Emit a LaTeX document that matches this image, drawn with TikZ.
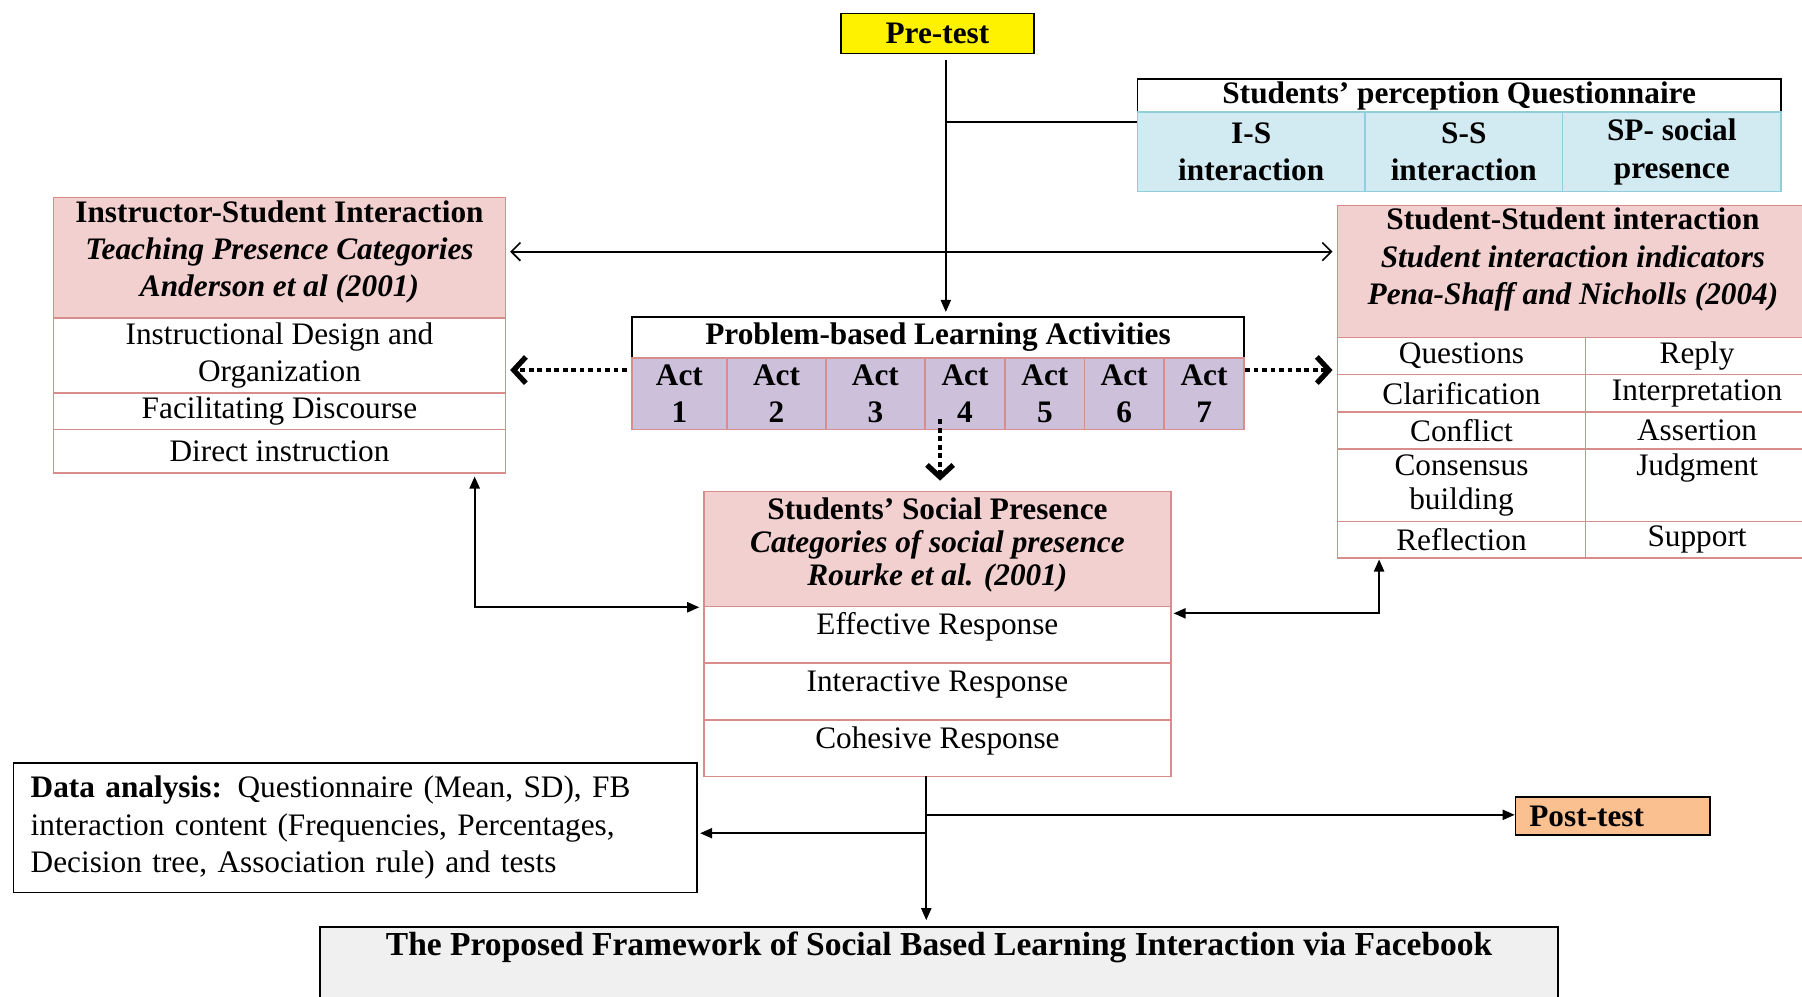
\documentclass[tikz,border=0pt]{standalone}
\usepackage{fontspec}
\setmainfont{Liberation Serif}
\usepackage{xcolor}
\usepackage{tikz}
\usetikzlibrary{positioning,arrows.meta,calc}
\definecolor{pinkfill}{RGB}{242,208,208}
\definecolor{pinkline}{RGB}{217,140,140}
\definecolor{bluefill}{RGB}{210,234,241}
\definecolor{blueline}{RGB}{146,205,220}
\definecolor{actfill}{RGB}{204,192,218}
\definecolor{postfill}{RGB}{250,192,144}
\definecolor{framefill}{RGB}{240,240,240}
\newcommand{\pxl}{0.02cm}
\newcommand{\bodyfont}{\fontsize{15.5pt}{18.5pt}\selectfont}
\tikzset{
  box/.style 2 args={anchor=north west, inner sep=0pt, align=center,
                     minimum width=#1*\pxl, minimum height=#2*\pxl},
  head/.style={draw=pinkline, thick, fill=pinkfill, font=\bodyfont\bfseries},
  cell/.style={draw=pinkline, thick, fill=white},
  plain/.style={draw=black, thick, fill=white, font=\bodyfont\bfseries},
  qcell/.style={draw=blueline, thick, fill=bluefill, font=\bodyfont\bfseries},
  act/.style={draw=pinkline, thick, fill=actfill, font=\bodyfont\bfseries},
  upper/.style={text height=11pt, text depth=11pt},
  lift/.style={text depth=#1},
  link/.style={-{Triangle[length=6pt,width=5pt]}, line width=1pt},
  twoway/.style={{Triangle[length=6pt,width=5pt]}-{Triangle[length=6pt,width=5pt]}, line width=1pt},
  thinway/.style={{Straight Barb[length=4.5pt,width=9pt]}-{Straight Barb[length=4.5pt,width=9pt]}, line width=0.8pt},
  dots/.style={-{Straight Barb[length=6pt,width=13pt,line width=2.6pt]}, line width=2.2pt,
               dash pattern=on 2.4pt off 1.8pt}
}

\begin{document}
\begin{tikzpicture}[x=0.02cm, y=-0.02cm, every node/.style={font=\bodyfont}]
  \useasboundingbox (0,0) rectangle (1568,867);

  % tests and questionnaire
  \node[plain, fill=yellow, box={168}{35}] (pre) at (731,11) {Pre-test};
  \node[plain, box={560}{29}] (qhead) at (989,68) {Students’ perception Questionnaire};
  \node[qcell, box={198}{69}] (q1) at (989,97) {I-S\\interaction};
  \node[qcell, box={172}{69}] (q2) at (1187,97) {S-S\\interaction};
  \node[qcell, box={190}{69}] (q3) at (1359,97) {SP- social\\presence};

  % instructor-student
  \node[head, box={393}{105}, lift=9pt] (ishead) at (46,171)
       {Instructor-Student Interaction\\ \textit{Teaching Presence Categories}\\ \textit{Anderson et al (2001)}};
  \node[cell, box={393}{65}] (is1) at (46,276) {Instructional Design and\\Organization};
  \node[cell, box={393}{32}] (is2) at (46,341) {Facilitating Discourse};
  \node[cell, box={393}{38}] (is3) at (46,373) {Direct instruction};

  % activities
  \node[plain, box={533}{36}] (pbl) at (549,275) {Problem-based Learning Activities};
  \foreach \x/\w [count=\i] in {549/83, 632/86, 718/86, 804/70, 874/69, 943/69, 1012/70}
    \node[act, box={\w}{62}] (act\i) at (\x,311) {Act\\\i};

  % social presence
  \node[head, box={406}{100}, lift=7pt, font=\fontsize{15.5pt}{16.3pt}\selectfont\bfseries] (sphead) at (612,427)
       {Students’ Social Presence\\ \textit{Categories of social presence}\\ \textit{Rourke et al. (2001)}};
  \node[cell, box={406}{49}, upper] (sp1) at (612,527) {Effective Response};
  \node[cell, box={406}{50}, upper] (sp2) at (612,576) {Interactive Response};
  \node[cell, box={406}{49}, upper] (sp3) at (612,626) {Cohesive Response};

  % student-student
  \node[head, box={410}{115}, lift=15pt] (sshead) at (1163,178)
       {Student-Student interaction\\ \textit{Student interaction indicators}\\ \textit{Pena-Shaff and Nicholls (2004)}};
  \node[cell, box={216}{32}] (ss1a) at (1163,293) {Questions};
  \node[cell, box={194}{32}] (ss1b) at (1379,293) {Reply};
  \node[cell, box={216}{33}] (ss2a) at (1163,325) {Clarification};
  \node[cell, box={194}{33}] (ss2b) at (1379,325) {Interpretation};
  \node[cell, box={216}{32}] (ss3a) at (1163,358) {Conflict};
  \node[cell, box={194}{32}] (ss3b) at (1379,358) {Assertion};
  \node[cell, box={216}{63}, font=\fontsize{15.5pt}{17pt}\selectfont] (ss4a) at (1163,390) {Consensus\\building};
  \node[cell, box={194}{63}, lift=20pt] (ss4b) at (1379,390) {Judgment};
  \node[cell, box={216}{32}] (ss5a) at (1163,453) {Reflection};
  \node[cell, box={194}{32}] (ss5b) at (1379,453) {Support};

  % outputs
  \node[plain, box={595}{113}, font=\bodyfont, align=left, text width=565*\pxl] (data) at (11,663)
       {\textbf{Data analysis:} Questionnaire (Mean, SD), FB\\interaction content (Frequencies, Percentages,\\Decision tree, Association rule) and tests};
  \node[plain, fill=postfill, box={169}{33}, align=left, text width=145*\pxl] (post) at (1318,693) {Post-test};
  \node[plain, fill=framefill, box={1077}{80}, text height=11pt, text depth=28pt,
        font=\fontsize{16.6pt}{19pt}\selectfont\bfseries] (frame) at (278,806)
       {The Proposed Framework of Social Based Learning Interaction via Facebook};

  % connectors
  \coordinate (prefoot) at (823,52);
  \coordinate (qjoin) at (823,106);
  \coordinate (cross) at (823,219);
  \coordinate (dotrow) at (0,322);
  \coordinate (dotfoot) at (818,365);
  \coordinate (isfoot) at (413,411);
  \coordinate (ssfoot) at (1200,485);
  \coordinate (spfoot) at (806,675);
  \coordinate (postrow) at (806,709);
  \coordinate (datarow) at (806,725);
  \draw[link, shorten >=2pt] (prefoot) -- (prefoot |- pbl.north);
  \draw[line width=1pt] (qjoin) -- (qjoin -| q1.west);
  \draw[thinway, shorten <=2pt, shorten >=2pt] (cross -| ishead.east) -- (cross -| sshead.west);
  \draw[dots, shorten <=2pt, shorten >=2pt] (dotrow -| act1.west) -- (dotrow -| is1.east);
  \draw[dots, shorten >=2pt] (dotrow -| act7.east) -- (dotrow -| sshead.west);
  \draw[dots, shorten >=5pt] (dotfoot) -- (dotfoot |- sphead.north);
  \draw[twoway, shorten <=2pt, shorten >=2pt] (isfoot) |- (sphead.south west);
  \draw[twoway, shorten <=1pt, shorten >=1pt] (ssfoot) |- ([yshift=-3pt]sphead.south east);
  \draw[link, shorten >=3pt] (spfoot) -- (spfoot |- frame.north);
  \draw[link] (postrow) -- (postrow -| post.west);
  \draw[link, shorten >=1pt] (datarow) -- (datarow -| data.east);
\end{tikzpicture}
\end{document}
